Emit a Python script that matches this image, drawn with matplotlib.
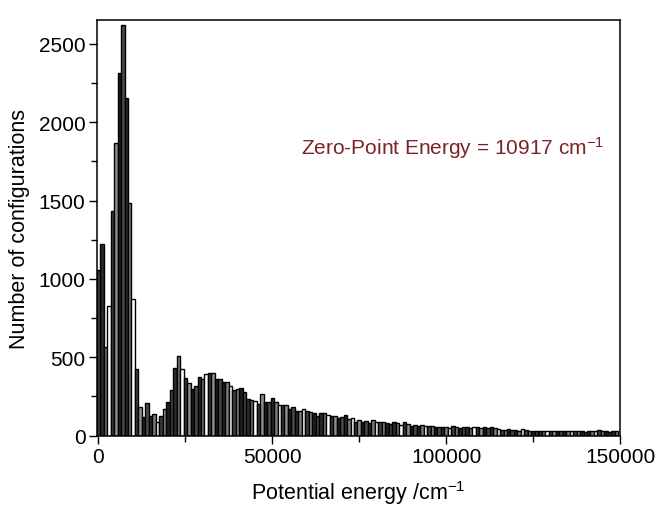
import numpy as np
import matplotlib
matplotlib.use("Agg")
import matplotlib.pyplot as plt
import matplotlib.ticker as ticker

plt.rcParams['font.family'] = ['Liberation Sans', 'DejaVu Sans']
plt.rcParams['mathtext.fontset'] = 'custom'
plt.rcParams['mathtext.rm'] = 'Liberation Sans'
plt.rcParams['mathtext.it'] = 'Liberation Sans:italic'

# histogram bins, 1000 cm-1 wide, centred on multiples of 1000
bin_width = 1000
counts_low = [1055, 1220, 565, 830, 1432, 1868, 2312, 2620, 2157, 1485,
              870, 425, 181, 117, 206, 127, 138, 85, 127, 173,
              215, 292, 430, 508]
counts_mid = [423, 370, 338, 296, 317, 374, 364, 391, 398, 398,
              364, 364, 343, 343, 317, 292, 300, 307, 279, 237,
              228, 222, 201, 264, 212, 212, 243, 217, 196, 195]
counts_high = [195, 173, 186, 159, 159, 169, 159, 152, 144, 127,
               144, 144, 131, 123, 123, 110, 116, 131, 106, 110,
               89, 102, 85, 95, 80, 99, 89, 85, 85, 80,
               74, 85, 78, 70, 85, 74, 63, 70, 63, 68,
               63, 59, 59, 55, 55]
counts_tail = [53, 57, 49, 59, 53, 49, 57, 53, 47, 53,
               57, 49, 53, 47, 53, 49, 44, 38, 34, 42,
               36, 38, 32, 40, 36, 30, 32, 30, 30, 32,
               32, 27, 30, 27, 32, 30, 32, 27, 27, 32,
               30, 25, 32, 27, 30, 34, 27, 30, 25, 27,
               30]
counts = counts_low + counts_mid + counts_high + counts_tail
centers = np.arange(len(counts)) * bin_width

zpe_label = 'Zero-Point Energy = 10917 cm$^{-1}$'

fig = plt.figure(figsize=(6.57, 5.06), dpi=100)
ax = fig.add_axes([0.1472, 0.137, 0.7965, 0.822])

# fills vary from bar to bar in the original scan
fills = ['#4a4a4a', '#2a2a2a', '#7a7a7a', '#ffffff', '#3c3c3c',
         '#8e8e8e', '#1e1e1e']
colors = [fills[i % len(fills)] for i in range(len(counts))]
ax.bar(centers, counts, width=bin_width, color=colors,
       edgecolor='black', linewidth=1.0)

ax.set_xlim(-500, 150000)
ax.set_ylim(0, 2653)

ax.xaxis.set_major_locator(ticker.MultipleLocator(50000))
ax.xaxis.set_minor_locator(ticker.MultipleLocator(25000))
ax.yaxis.set_major_locator(ticker.MultipleLocator(500))
ax.yaxis.set_minor_locator(ticker.MultipleLocator(250))
ax.tick_params(which='major', direction='out', length=6, width=1,
               labelsize=15, pad=2)
ax.tick_params(which='minor', direction='out', length=4, width=1)

for s in ax.spines.values():
    s.set_linewidth(1.1)

ax.set_xlabel('Potential energy /cm$^{-1}$', fontsize=15.5, labelpad=9)
ax.set_ylabel('Number of configurations', fontsize=15.5, labelpad=6)

ax.text(0.97, 0.695, zpe_label, transform=ax.transAxes, ha='right',
        va='center', color='#7b2427', fontsize=15)

fig.savefig('out.png', dpi=100)
